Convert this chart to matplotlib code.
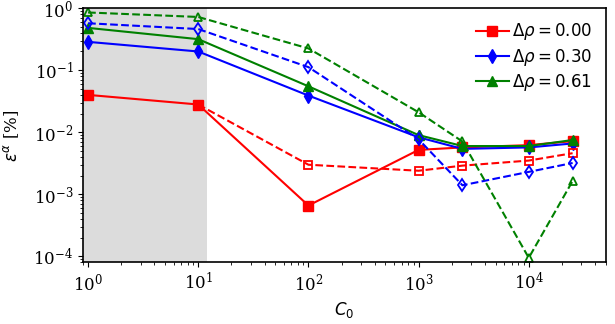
import numpy as np
import matplotlib
matplotlib.use('Agg')
import matplotlib.pyplot as plt

plt.rcParams['font.family'] = 'DejaVu Serif'
plt.rcParams['mathtext.fontset'] = 'dejavusans'

# C0 values where each case was evaluated
c0 = [1, 10, 100, 1000, 2500, 10000, 25000]

# solid lines (filled markers)
err_000 = [0.040, 0.028, 0.00066, 0.0052, 0.0057, 0.0062, 0.0072]
err_030 = [0.286, 0.200, 0.039, 0.0083, 0.0054, 0.0057, 0.0066]
err_061 = [0.48, 0.316, 0.055, 0.0090, 0.0060, 0.0060, 0.0075]

# dashed lines (open markers), red one starts at C0 = 10
err_000_d = [None, 0.028, 0.0030, 0.0024, 0.0029, 0.0035, 0.0046]
err_030_d = [0.57, 0.46, 0.112, 0.0077, 0.0014, 0.0023, 0.0032]
err_061_d = [0.85, 0.72, 0.224, 0.021, 0.0071, 0.000095, 0.00164]

labels = [r'$\Delta\rho = 0.00$', r'$\Delta\rho = 0.30$', r'$\Delta\rho = 0.61$']
colors = ['red', 'blue', 'green']
markers = ['s', 'd', '^']

fig, ax = plt.subplots(figsize=(6.15, 3.24), dpi=100)
ax.axvspan(0.5, 12, color='#dcdcdc', zorder=0, lw=0)

solid = [err_000, err_030, err_061]
dashed = [err_000_d, err_030_d, err_061_d]
for ys, lab, col, mk in zip(solid, labels, colors, markers):
    ax.plot(c0, ys, color=col, marker=mk, ms=7, lw=1.5, label=lab)
for ys, col, mk in zip(dashed, colors, markers):
    xs = [x for x, y in zip(c0, ys) if y is not None]
    yv = [y for y in ys if y is not None]
    # first red dashed point sits under the solid marker
    start = 1 if col == 'red' else 0
    ax.plot(xs, yv, color=col, marker=mk, ms=6, lw=1.5, ls='--',
            mfc='none', mew=1.3, markevery=list(range(start, len(xs))))

ax.set_xscale('log')
ax.set_yscale('log')
ax.set_xlim(0.9, 5e4)
ax.set_ylim(8e-5, 1)
ax.tick_params(labelsize=12)
ax.set_xlabel(r'$C_0$', fontsize=12)
ax.set_ylabel(r'$\epsilon^\alpha$ [%]', fontsize=12, labelpad=9)
for s in ax.spines.values():
    s.set_linewidth(1.2)
ax.legend(loc='upper right', frameon=False, fontsize=12, handlelength=2.0,
          handletextpad=0.2, labelspacing=0.25, borderaxespad=0.4)

plt.subplots_adjust(left=0.135, right=0.985, top=0.975, bottom=0.19)
plt.savefig('out.png')
